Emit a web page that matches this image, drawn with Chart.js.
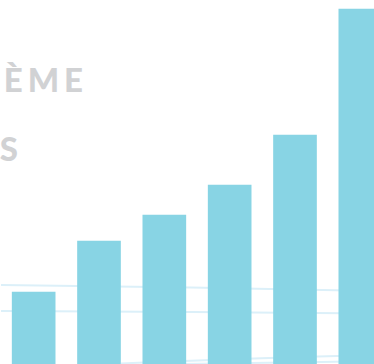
<!DOCTYPE html>
<html>
<head>
<meta charset="utf-8">
<script src="https://cdn.jsdelivr.net/npm/chart.js@4/dist/chart.umd.min.js"></script>
<style>
  html, body { margin: 0; padding: 0; background: #fff; overflow: hidden; width: 374px; height: 364px; }
  .title {
    position: absolute;
    width: 400px;
    text-align: right;
    font-family: Lato, sans-serif;
    font-weight: 900;
    font-size: 33px;
    line-height: 69px;
    letter-spacing: 5px;
    color: #d1d2d4;
    white-space: nowrap;
  }
  #wrap { position: absolute; left: 1px; top: 0; width: 392px; height: 400px; }
</style>
</head>
<body>
<div class="title" style="left:-312px; top:45px">TROISIÈME</div>
<div class="title" style="left:-377px; top:114px">ANNÉES</div>
<div id="wrap"><canvas id="chart"></canvas></div>
<script>
  const categories = ['1', '2', '3', '4', '5', '6']
  const barValues = [108, 159, 185, 215, 265, 391]

  // faint background strokes, [x, value] pairs
  const lineA = [[0, 115], [190, 112.5], [374, 109]]
  const lineB = [[0, 89], [190, 88], [374, 86.5]]
  const lineC = [[120, 36.5], [190, 39.3], [260, 41.7], [374, 45]]
  const lineD = [[180, 36], [320, 38], [374, 39]]

  const toPoints = arr => arr.map(([x, y]) => ({ x, y }))

  const deco = (data) => ({
    type: 'line',
    data: toPoints(data),
    xAxisID: 'x2',
    borderColor: '#dcf0f9',
    borderWidth: 2,
    pointRadius: 0,
    tension: 0.3,
    fill: false,
    order: 2
  })

  new Chart(document.getElementById('chart'), {
    type: 'bar',
    data: {
      labels: categories,
      datasets: [
        {
          data: barValues,
          backgroundColor: '#88d4e4',
          barThickness: 43,
          grouped: false,
          order: 1
        },
        deco(lineA),
        deco(lineB),
        deco(lineC),
        deco(lineD)
      ]
    },
    options: {
      responsive: true,
      maintainAspectRatio: false,
      animation: false,
      layout: { padding: 0 },
      plugins: { legend: { display: false }, tooltip: { enabled: false } },
      scales: {
        x: { display: false },
        x2: { type: 'linear', display: false, offset: false, min: 0, max: 392 },
        y: { display: false, min: 0, max: 400 }
      }
    }
  })
</script>
</body>
</html>
